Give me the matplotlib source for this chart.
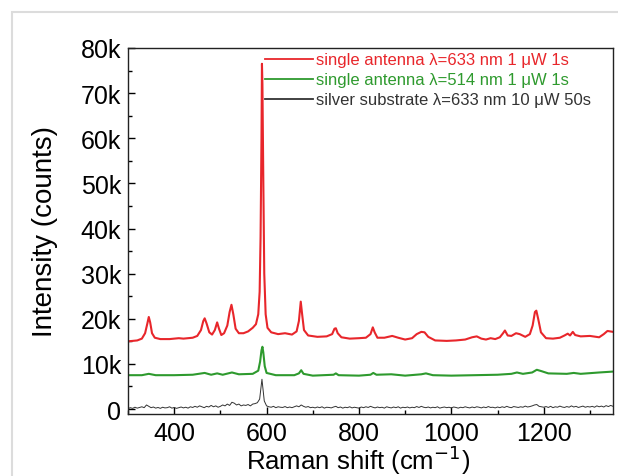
import numpy as np
import matplotlib
matplotlib.use("Agg")
import matplotlib.pyplot as plt
from matplotlib.patches import Rectangle
from matplotlib.ticker import MultipleLocator, FuncFormatter

plt.rcParams['font.family'] = ['Liberation Sans', 'DejaVu Sans']

# ---------------- data ----------------
red_x = [300, 310, 320, 330, 337, 342, 345, 348, 352, 358, 370, 390, 410, 420, 440, 450, 458, 463,
         466, 470, 476, 482, 488, 493, 497, 502, 508, 515, 520, 524, 528, 533, 540, 550, 560, 570,
         577, 582, 585, 587, 589, 590, 591, 593, 595, 598, 602, 610, 625, 640, 655, 665, 670, 674,
         677, 681, 690, 710, 730, 742, 747, 750, 754, 762, 780, 800, 815, 825, 830, 834, 840, 855,
         872, 885, 900, 915, 925, 935, 942, 950, 965, 990, 1010, 1030, 1045, 1055, 1065, 1075, 1085,
         1095, 1105, 1112, 1116, 1122, 1130, 1140, 1148, 1160, 1170, 1176, 1181, 1184, 1188, 1194,
         1205, 1220, 1235, 1245, 1252, 1257, 1263, 1268, 1280, 1300, 1320, 1330, 1338, 1350]
red_y = [15000, 15100, 15200, 15600, 16800, 19000, 20400, 19200, 16800, 15800, 15500, 15500, 15700,
         15600, 15800, 16200, 17500, 19500, 20100, 19000, 17000, 16500, 17500, 19200, 17800, 16400,
         16800, 18500, 21500, 23100, 21000, 17800, 16800, 16800, 17200, 18000, 18800, 21000, 26000,
         38000, 60000, 76500, 72000, 50000, 30000, 21000, 18000, 17000, 16600, 16800, 16500, 17200,
         19500, 23800, 21000, 17500, 16300, 16000, 16100, 16600, 17800, 17900, 16800, 15900, 15600,
         15700, 15800, 16600, 18100, 17000, 15800, 15800, 16200, 15800, 15400, 15700, 16600, 17100,
         17000, 16000, 15200, 15100, 15200, 15400, 15900, 16100, 15600, 15400, 15700, 15500, 15900,
         16800, 17400, 16300, 16200, 16800, 16600, 16000, 16600, 18500, 21500, 21800, 20000, 17000,
         15700, 15600, 15800, 16300, 16700, 16300, 17100, 16400, 16100, 16200, 15900, 16600, 17300,
         17100]

green_x = [300, 330, 345, 360, 400, 440, 466, 480, 493, 505, 525, 540, 570, 582, 586, 589, 591, 593,
           596, 600, 620, 660, 670, 675, 680, 700, 745, 750, 756, 800, 825, 831, 838, 870, 900, 935,
           945, 960, 1000, 1050, 1100, 1130, 1142, 1155, 1175, 1185, 1195, 1210, 1250, 1265, 1280,
           1320, 1350]
green_y = [7500, 7500, 7800, 7500, 7500, 7600, 8000, 7600, 7900, 7600, 8100, 7700, 7800, 8500, 10500,
           13000, 13800, 12500, 9500, 8000, 7500, 7500, 7900, 8600, 7800, 7400, 7600, 7900, 7500, 7400,
           7600, 8000, 7600, 7700, 7400, 7700, 7900, 7500, 7400, 7500, 7600, 7800, 8100, 7800, 8100,
           8700, 8400, 7900, 7800, 8000, 7800, 8100, 8300]

black_start, black_step = 300, 5
black_y = [100, 300, 150, 400, 200, 350, 500, 300, 900, 600,
           300, 450, 200, 350, 150, 400, 250, 300, 500, 200,
           350, 150, 300, 450, 250, 400, 200, 500, 350, 600,
           400, 700, 500, 300, 600, 450, 800, 500, 700, 400,
           600, 900, 700, 1100, 800, 1500, 1300, 900, 1100, 700,
           900, 800, 1000, 700, 1100, 1200, 1400, 2200, 6600, 1800,
           700, 500, 400, 600, 300, 500, 400, 350, 550, 300,
           450, 300, 500, 700, 500, 900, 600, 400, 550, 300,
           400, 250, 450, 300, 500, 200, 400, 350, 250, 450,
           600, 300, 450, 200, 400, 300, 500, 250, 400, 300,
           200, 450, 300, 500, 350, 600, 400, 250, 450, 300,
           400, 200, 500, 350, 250, 450, 300, 500, 200, 400,
           300, 450, 250, 400, 300, 550, 350, 600, 400, 300,
           450, 250, 400, 300, 500, 200, 350, 450, 300, 400,
           250, 450, 350, 200, 400, 300, 500, 350, 250, 450,
           300, 500, 400, 250, 450, 300, 550, 350, 400, 250,
           450, 300, 500, 350, 600, 400, 300, 550, 450, 350,
           500, 400, 650, 450, 550, 700, 900, 1000, 600, 500,
           400, 550, 350, 600, 300, 500, 400, 650, 450, 350,
           550, 400, 700, 450, 600, 350, 500, 650, 400, 550,
           450, 600, 400, 700, 500, 650, 450, 750, 550, 800,
           600]
black_x = black_start + black_step * np.arange(len(black_y))

labels = ["single antenna \u03bb=633 nm 1 \u03bcW 1s",
          "single antenna \u03bb=514 nm 1 \u03bcW 1s",
          "silver substrate \u03bb=633 nm 10 \u03bcW 50s"]
colors = ["#e8262b", "#2e9a2e", "#333333"]

# ---------------- figure ----------------
W, H = 618, 477
fig = plt.figure(figsize=(W / 100, H / 100), dpi=100)
fig.patches.append(Rectangle((12 / W, -0.1), 1.2, 1 - 13 / H + 0.1, transform=fig.transFigure,
                             fill=False, edgecolor="#dcdcdc", linewidth=1.5))
ax = fig.add_axes([128 / W, 1 - 415 / H, (613 - 128) / W, (415 - 49) / H])

l1, = ax.plot(red_x, red_y, color=colors[0], lw=1.5, label=labels[0])
l2, = ax.plot(green_x, green_y, color=colors[1], lw=1.5, label=labels[1])
l3, = ax.plot(black_x, black_y, color=colors[2], lw=0.7, label=labels[2])

ax.set_xlim(300, 1350)
ax.set_ylim(-1100, 80000)
ax.xaxis.set_major_locator(MultipleLocator(200))
ax.xaxis.set_minor_locator(MultipleLocator(100))
ax.yaxis.set_major_locator(MultipleLocator(10000))
ax.yaxis.set_minor_locator(MultipleLocator(5000))
ax.yaxis.set_major_formatter(FuncFormatter(lambda v, p: "0" if v == 0 else f"{int(v/1000)}k"))
ax.tick_params(which="both", direction="in", labelsize=18, pad=5)
ax.tick_params(which="major", length=5, width=1)
ax.tick_params(which="minor", length=3, width=1)
for s in ax.spines.values():
    s.set_linewidth(1.0)
    s.set_color("#222222")

ax.set_xlabel("Raman shift (cm$^{-1}$)", fontsize=18.5, labelpad=0)
ax.set_ylabel("Intensity (counts)", fontsize=20, labelpad=16)
ax.xaxis.set_label_coords(0.475, -0.078)

leg = ax.legend(handles=[l1, l2, l3], loc="upper left", bbox_to_anchor=((253 - 128) / (613 - 128), 1.02),
                frameon=False, fontsize=12, handlelength=2.9, handletextpad=0.15,
                labelspacing=0.3, borderaxespad=0.3, labelcolor="linecolor")
for h in leg.legend_handles:
    h.set_linewidth(1.3)

fig.savefig("out.png", dpi=100)
